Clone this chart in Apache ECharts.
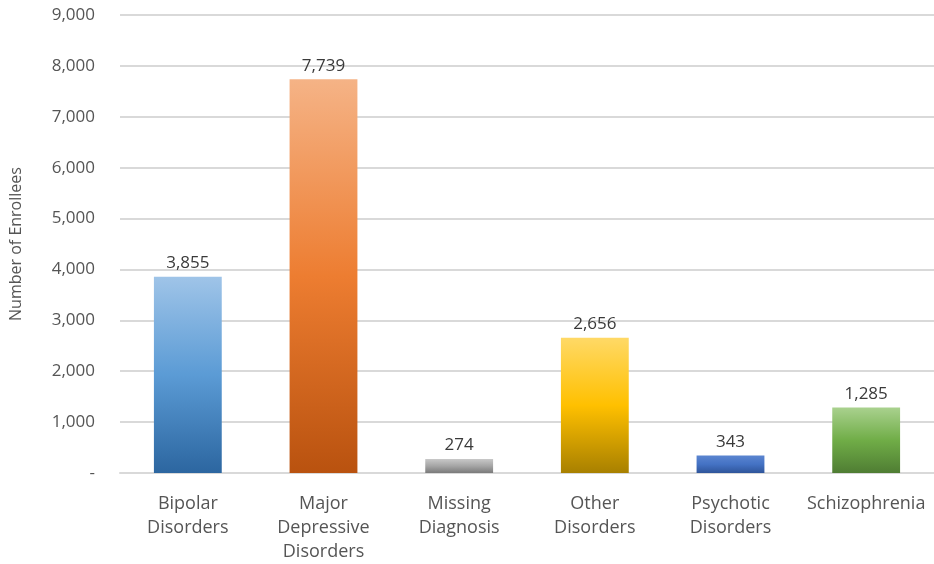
<!DOCTYPE html>
<html><head><meta charset="utf-8">
<script src="https://cdn.jsdelivr.net/npm/echarts@6/dist/echarts.min.js"></script>
<style>html,body{margin:0;padding:0;background:#fff}#c{width:934px;height:564px}</style>
</head><body><div id="c"></div>
<script>
var categories = ['Bipolar\nDisorders', 'Major\nDepressive\nDisorders', 'Missing\nDiagnosis', 'Other\nDisorders', 'Psychotic\nDisorders', 'Schizophrenia'];
var values = [3855, 7739, 274, 2656, 343, 1285];
var barColors = [
  ['#9fc4e8', '#5b9bd5', '#2c66a0'],
  ['#f5b386', '#ed7d31', '#b9520f'],
  ['#c8c8c8', '#a5a5a5', '#7a7a7a'],
  ['#ffd966', '#ffc000', '#a88000'],
  ['#5b85d0', '#4472c4', '#2f559a'],
  ['#a9d18e', '#70ad47', '#4f7d33']
];
var font = '"Open Sans", Lato, sans-serif';
function fmt(v){ return v === 0 ? '-' : v.toLocaleString('en-US'); }
var chart = echarts.init(document.getElementById('c'));
chart.setOption({
  animation: false,
  grid: { left: 118, top: 15, width: 821, bottom: 87 },
  xAxis: {
    type: 'category', data: categories,
    axisLine: { lineStyle: { color: '#d9d9d9', width: 2 } },
    axisTick: { show: false },
    axisLabel: { color: '#555555', fontSize: 18, fontFamily: font, margin: 19, lineHeight: 24, interval: 0 }
  },
  yAxis: {
    type: 'value', min: 0, max: 9000, interval: 1000,
    name: 'Number of Enrollees', nameLocation: 'middle', nameGap: 96, nameRotate: 90,
    nameTextStyle: { color: '#555555', fontSize: 16, fontFamily: font },
    axisLine: { show: false }, axisTick: { show: false },
    axisLabel: { color: '#555555', fontSize: 17, fontFamily: font, margin: 25, formatter: fmt },
    splitLine: { lineStyle: { color: '#d9d9d9', width: 2 } }
  },
  series: [{
    type: 'bar', barWidth: '50%',
    data: values.map(function(v, i){
      var c = barColors[i];
      return { value: v, itemStyle: { color: new echarts.graphic.LinearGradient(0,0,0,1,[
        {offset:0,color:c[0]},{offset:0.5,color:c[1]},{offset:1,color:c[2]}]) } };
    }),
    label: { show: true, position: 'top', color: '#3a3a3a', fontSize: 17, fontFamily: font, distance: 5, formatter: function(p){ return fmt(p.value); } }
  }]
});
</script></body></html>
